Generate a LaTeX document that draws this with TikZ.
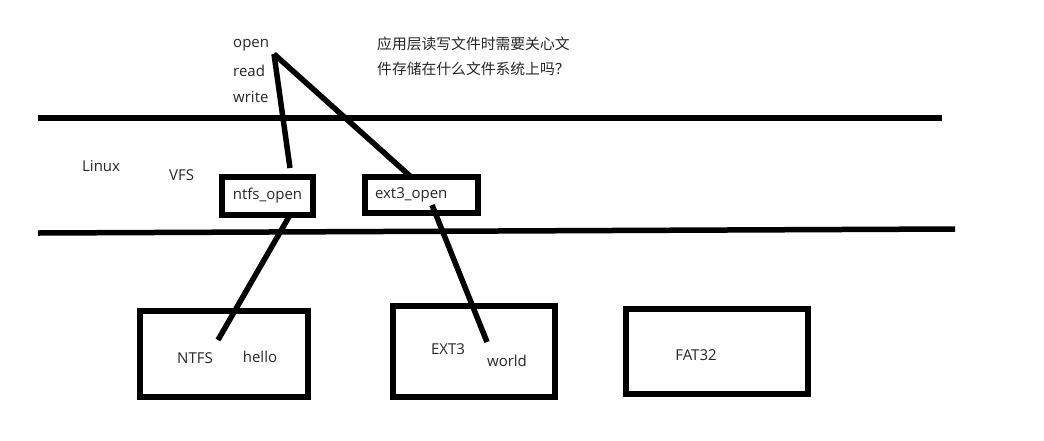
\documentclass[tikz,border=0pt]{standalone}
\usepackage{fontspec}
\setmainfont{Open Sans}
\newfontfamily\cjk{Noto Sans CJK SC}
\usetikzlibrary{positioning}

\begin{document}
\begin{tikzpicture}[x=1pt, y=-1pt,
  txt/.style={inner sep=0pt, font=\fontsize{15}{18}\selectfont, text=black!85},
  fsbox/.style={draw, line width=5.5pt, inner sep=0pt},
  wire/.style={line width=5.5pt}]
  \useasboundingbox (0,0) rectangle (1044,440);
  % layer lines
  \coordinate (topl) at (38,118);
  \coordinate (topr) at (942,118);
  \coordinate (botl) at (38,233);
  \coordinate (botr) at (955,229);
  \draw [wire] (topl) -- (topr);
  \draw [wire] (botl) -- (botr);
  % application calls
  \node (open) at (233,45) [txt, anchor=west] {open};
  \node (read) at (233,71) [txt, anchor=west] {read};
  \node (write) at (233,97) [txt, anchor=west] {write};
  \node (question) at (377,56) [txt, anchor=west, align=left, font=\cjk\fontsize{14.8}{25}\selectfont]
    {应用层读写文件时需要关心文\\件存储在什么文件系统上吗？};
  \node (linux) at (82,166) [txt, anchor=west] {Linux};
  \node (vfs) at (169,175) [txt, anchor=west] {VFS};
  % vfs functions
  \node (ntfsopen) at (267.5,196) [fsbox, txt, minimum width=91pt, minimum height=38pt] {ntfs\_open};
  \node (extopen) at (421.5,195) [fsbox, txt, minimum height=36pt, text width=93pt, inner xsep=10pt, align=left] {ext3\_open};
  % file systems
  \node (ntfs) at (224,354) [fsbox, minimum width=168pt, minimum height=86pt] {};
  \node (ext) at (474,351.5) [fsbox, minimum width=162pt, minimum height=91pt] {};
  \node (fat) at (717,351.5) [fsbox, minimum width=182pt, minimum height=85pt] {};
  \node (ntfslabel) at (195,358) [txt] {NTFS};
  \node (hello) at (260,357) [txt] {hello};
  \node (extlabel) at (448,349) [txt] {EXT3};
  \node (world) at (507,361) [txt] {world};
  \node (fatlabel) at (696,355) [txt] {FAT32};
  % connectors
  \coordinate (fork) at (274,54);
  \coordinate (ntfstop) at (290,168);
  \coordinate (exttop) at (410,176);
  \coordinate (ntfsout) at (290,215);
  \coordinate (ntfsin) at (218,340);
  \coordinate (extout) at (432,205);
  \coordinate (extin) at (487,342);
  \draw [wire] (fork) -- (ntfstop);
  \draw [wire] (fork) -- (exttop);
  \draw [wire] (ntfsout) -- (ntfsin);
  \draw [wire] (extout) -- (extin);
\end{tikzpicture}
\end{document}
